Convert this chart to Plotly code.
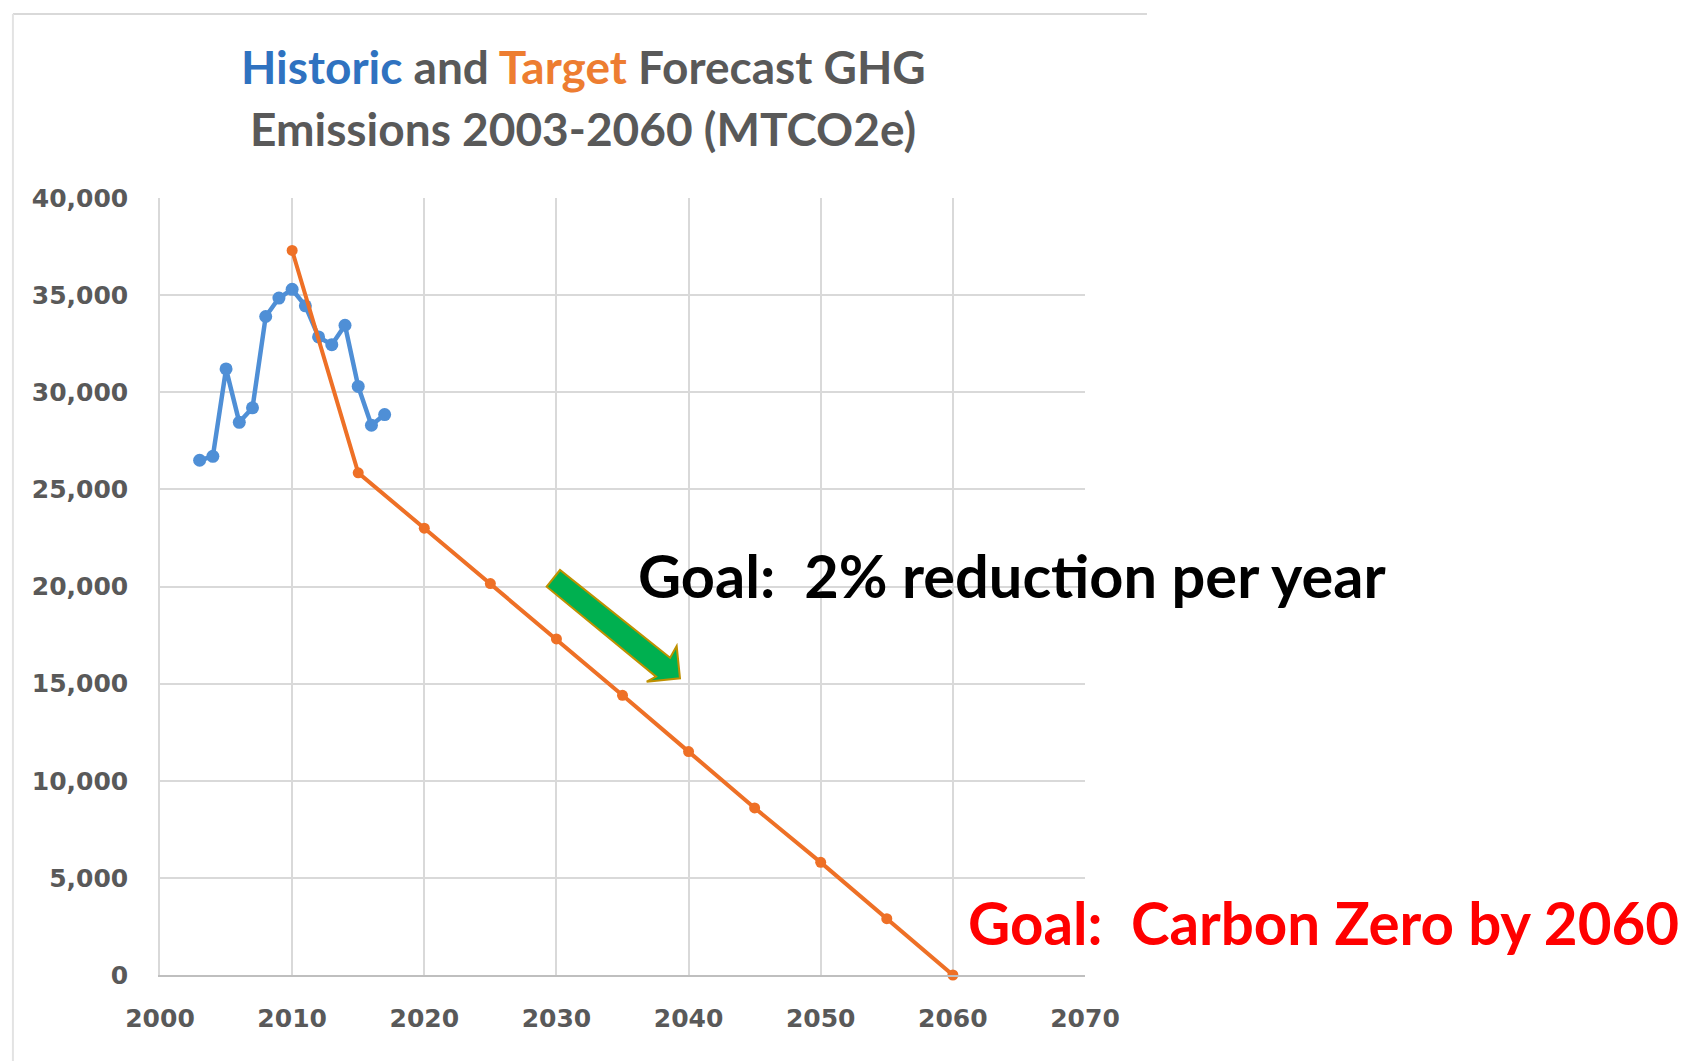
import plotly.graph_objects as go

# ---- data ----
hist_years = [2003, 2004, 2005, 2006, 2007, 2008, 2009, 2010, 2011, 2012, 2013, 2014, 2015, 2016, 2017]
hist_values = [26500, 26700, 31200, 28450, 29200, 33900, 34850, 35300, 34450, 32850, 32450, 33450, 30300, 28300, 28850]

target_years = [2010, 2015, 2020, 2025, 2030, 2035, 2040, 2045, 2050, 2055, 2060]
target_values = [37300, 25850, 23000, 20150, 17300, 14400, 11500, 8600, 5800, 2900, 0]

x_ticks = [2000, 2010, 2020, 2030, 2040, 2050, 2060, 2070]
y_ticks = [0, 5000, 10000, 15000, 20000, 25000, 30000, 35000, 40000]

title_line1 = ("<b><span style='color:#2F72C0'>Historic</span> and "
               "<span style='color:#ED7D31'>Target</span> Forecast GHG</b>")
title_line2 = "<b>Emissions 2003-2060 (MTCO2e)</b>"
goal_rate = "<b>Goal:\u00a0 2% reduction per year</b>"
goal_zero = "<b>Goal:\u00a0 Carbon Zero by 2060</b>"

# arrow outline (data coordinates, decorative)
arrow_x = [2029.26, 2030.27, 2038.60, 2039.10, 2039.35, 2036.83, 2037.54]
arrow_y = [19990, 20849, 16335, 16937, 15274, 15099, 15357]

BLUE = "#4F8FD6"
ORANGE = "#EE7026"
GRID = "#D9D9D9"
TICK_FONT = dict(family="DejaVu Sans", size=25, color="#595959", weight="bold")

fig = go.Figure()
fig.add_trace(go.Scatter(
    x=hist_years, y=hist_values, mode="lines+markers",
    line=dict(color=BLUE, width=4.5), marker=dict(color=BLUE, size=13),
    name="Historic", cliponaxis=False))
fig.add_trace(go.Scatter(
    x=target_years, y=target_values, mode="lines+markers",
    line=dict(color=ORANGE, width=4), marker=dict(color=ORANGE, size=11),
    name="Target", cliponaxis=False))

path = "M " + " L ".join(f"{x},{y}" for x, y in zip(arrow_x, arrow_y)) + " Z"
shapes = [
    dict(type="path", xref="x", yref="y", path=path,
         fillcolor="#00B050", line=dict(color="#BF9000", width=2), layer="above"),
    # chart-area frame (top and left)
    dict(type="line", xref="paper", yref="paper", x0=-0.159, x1=1.067, y0=1.2368, y1=1.2368,
         line=dict(color="#D9D9D9", width=2)),
    dict(type="line", xref="paper", yref="paper", x0=-0.159, x1=-0.159, y0=-0.111, y1=1.2368,
         line=dict(color="#E3E3E3", width=2)),
]

annotations = [
    dict(text=title_line1, xref="paper", yref="paper", x=0.4573, y=1.169,
         xanchor="center", yanchor="middle", showarrow=False,
         font=dict(family="Lato", size=46, color="#595959")),
    dict(text=title_line2, xref="paper", yref="paper", x=0.4573, y=1.089,
         xanchor="center", yanchor="middle", showarrow=False,
         font=dict(family="Lato", size=46, color="#595959")),
    dict(text=goal_rate, xref="paper", yref="paper", x=0.5146, y=0.5152,
         xanchor="left", yanchor="middle", showarrow=False,
         font=dict(family="Lato", size=59.5, color="#000000")),
    dict(text=goal_zero, xref="paper", yref="paper", x=0.8715, y=0.0686,
         xanchor="left", yanchor="middle", showarrow=False,
         font=dict(family="Lato", size=58.3, color="#FF0000")),
]

fig.update_layout(
    width=1700, height=1061,
    margin=dict(l=152, r=623, t=190, b=94),
    paper_bgcolor="white", plot_bgcolor="white",
    showlegend=False,
    shapes=shapes, annotations=annotations,
    xaxis=dict(range=[2000, 2070], tickvals=x_ticks, showgrid=True, gridcolor=GRID, gridwidth=1.5,
               showline=True, linecolor="#BFBFBF", linewidth=1.5, mirror=False,
               zeroline=False, ticks="outside", ticklen=20, tickcolor="rgba(0,0,0,0)",
               tickfont=TICK_FONT),
    yaxis=dict(range=[0, 40000], tickvals=y_ticks, tickformat=",d", showgrid=True, gridcolor=GRID,
               gridwidth=1.5, showline=True, linecolor=GRID, linewidth=1.5, zeroline=False,
               ticks="outside", ticklen=25, tickcolor="rgba(0,0,0,0)", tickfont=TICK_FONT),
)

fig.write_html("out.html")
